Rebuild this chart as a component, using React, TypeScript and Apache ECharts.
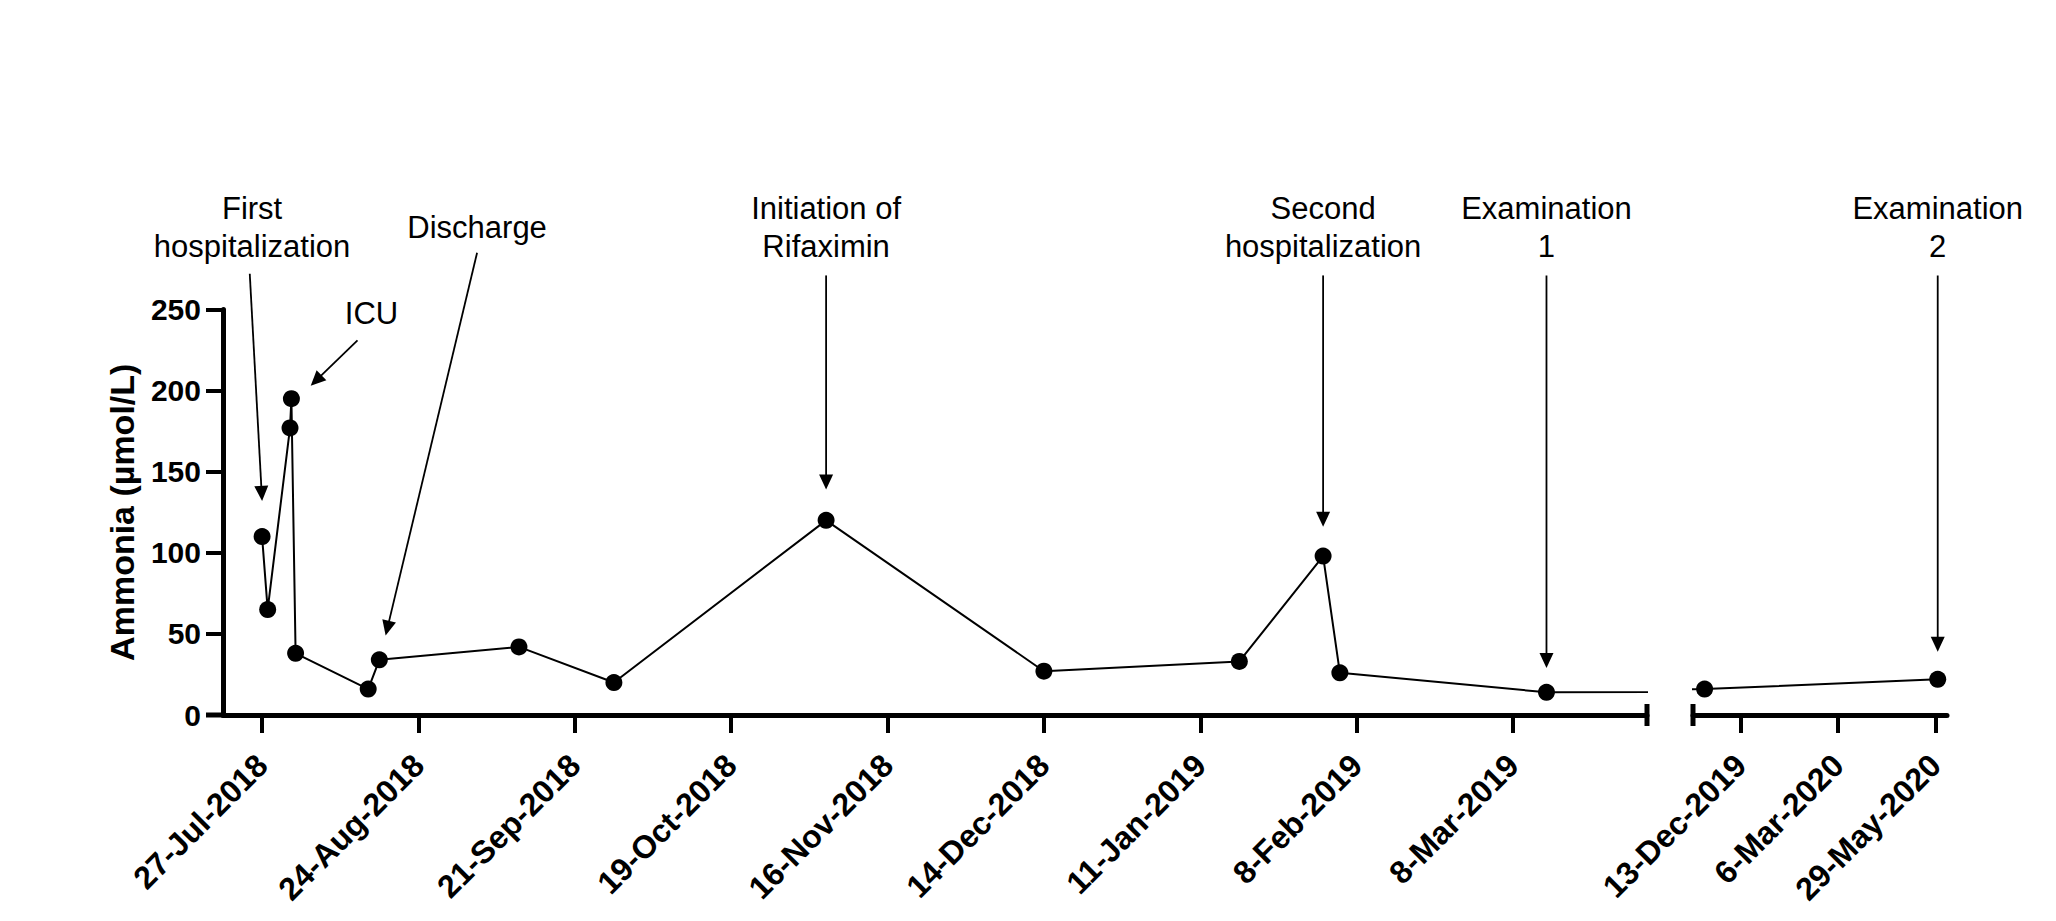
import React, { useEffect, useRef } from 'react';
import * as echarts from 'echarts';

// ---- data ----
const sampleDates = [
  '2018-07-27', '2018-07-28', '2018-08-01', '2018-08-01T06:00', '2018-08-02',
  '2018-08-15', '2018-08-17', '2018-09-11', '2018-09-28', '2018-11-05',
  '2018-12-14', '2019-01-18', '2019-02-02', '2019-02-05', '2019-03-14',
  '2019-11-12', '2020-05-31',
];
const ammonia = [110, 65, 177, 195, 38, 16, 34, 42, 20, 120, 27, 33, 98, 26, 14, 16, 22];

const leftRange = ['2018-07-20', '2019-04-01'];
const rightRange = ['2019-11-02', '2020-06-08'];

const leftTickDates = ['2018-07-27', '2018-08-24', '2018-09-21', '2018-10-19', '2018-11-16', '2018-12-14', '2019-01-11', '2019-02-08', '2019-03-08'];
const leftTickLabels = ['27-Jul-2018', '24-Aug-2018', '21-Sep-2018', '19-Oct-2018', '16-Nov-2018', '14-Dec-2018', '11-Jan-2019', '8-Feb-2019', '8-Mar-2019'];
const rightTickDates = ['2019-12-13', '2020-03-06', '2020-05-29'];
const rightTickLabels = ['13-Dec-2019', '6-Mar-2020', '29-May-2020'];

const yMin = 0;
const yMax = 250;
const yInterval = 50;
const yName = 'Ammonia (µmol/L)';

// annotations (arrow tip / tail / label anchor in data units)
const annLabels = ['First\nhospitalization', 'ICU', 'Discharge', 'Initiation of\nRifaximin', 'Second\nhospitalization', 'Examination\n1', 'Examination\n2'];
const annSegment = [0, 0, 0, 0, 0, 0, 1];
const annTipDates = ['2018-07-27', '2018-08-04T17:00', '2018-08-18T03:00', '2018-11-05', '2019-02-02', '2019-03-14', '2020-05-31'];
const annTipValues = [132, 203, 49, 139, 116, 29, 39];
const annTailDates = ['2018-07-24T19:00', '2018-08-13T02:00', '2018-09-03T12:00', '2018-11-05', '2019-02-02', '2019-03-14', '2020-05-31'];
const annTailValues = [272, 231, 285, 271, 271, 271, 271];
const annTextDates = ['2018-07-25T05:00', '2018-08-15T14:00', '2018-09-03T12:00', '2018-11-05', '2019-02-02', '2019-03-14', '2020-05-31'];
const annTextValues = [277, 236, 289, 277, 277, 277, 277];

// ---- helpers ----
const t = (s: string) => Date.parse(s.length > 10 ? s + ':00Z' : s + 'T00:00:00Z');
const FONT = "'Liberation Sans', Arial, Helvetica, sans-serif";

const labelFor = (dates: string[], labels: string[]) => (v: number) => {
  const i = dates.findIndex((d) => Math.abs(t(d) - v) < 3600000);
  return i >= 0 ? labels[i] : '';
};

const annRender = (params: any, api: any) => {
  const i = api.value(2);
  const tip = api.coord([t(annTipDates[i]), annTipValues[i]]);
  const tail = api.coord([t(annTailDates[i]), annTailValues[i]]);
  const txt = api.coord([t(annTextDates[i]), annTextValues[i]]);
  const dx = tip[0] - tail[0];
  const dy = tip[1] - tail[1];
  const len = Math.hypot(dx, dy) || 1;
  const ux = dx / len;
  const uy = dy / len;
  const headLen = 15;
  const headHalf = 7;
  const bx = tip[0] - ux * headLen;
  const by = tip[1] - uy * headLen;
  return {
    type: 'group',
    children: [
      { type: 'line', shape: { x1: tail[0], y1: tail[1], x2: bx + ux * 2, y2: by + uy * 2 }, style: { stroke: '#000', lineWidth: 1.8 } },
      {
        type: 'polygon',
        shape: { points: [tip, [bx - uy * headHalf, by + ux * headHalf], [bx + uy * headHalf, by - ux * headHalf]] },
        style: { fill: '#000' },
      },
      {
        type: 'text',
        x: txt[0],
        y: txt[1],
        style: { text: annLabels[i], fill: '#000', fontSize: 31, fontFamily: FONT, align: 'center', verticalAlign: 'bottom', lineHeight: 38 },
      },
    ],
  };
};

const decorLeft = (params: any, api: any) => {
  const a = api.coord([t(leftRange[0]), 0]);
  const b = api.coord([t(leftRange[1]), 0]);
  return {
    type: 'group',
    children: [
      { type: 'line', shape: { x1: a[0] - 17, y1: a[1], x2: a[0] + 2, y2: a[1] }, style: { stroke: '#000', lineWidth: 5 } },
      { type: 'line', shape: { x1: b[0], y1: b[1] - 11, x2: b[0], y2: b[1] + 11 }, style: { stroke: '#000', lineWidth: 5 } },
    ],
  };
};

const decorRight = (params: any, api: any) => {
  const a = api.coord([t(rightRange[0]), 0]);
  return {
    type: 'group',
    children: [
      { type: 'line', shape: { x1: a[0], y1: a[1] - 11, x2: a[0], y2: a[1] + 11 }, style: { stroke: '#000', lineWidth: 5 } },
    ],
  };
};

export default function App() {
  const ref = useRef<HTMLDivElement>(null);

  useEffect(() => {
    if (!ref.current) return;
    const chart = echarts.init(ref.current, undefined, { renderer: 'svg' });
    const points = sampleDates.map((d, i) => [t(d), ammonia[i]]);

    const xAxisCommon = (dates: string[], labels: string[], range: string[], gridIndex: number) => ({
      type: 'value',
      gridIndex,
      min: t(range[0]),
      max: t(range[1]),
      splitLine: { show: false },
      axisLine: { show: true, onZero: false, lineStyle: { color: '#000', width: 5 } },
      axisTick: { show: true, customValues: dates.map(t), length: 18, lineStyle: { color: '#000', width: 4 } },
      axisLabel: {
        show: true,
        customValues: dates.map(t),
        formatter: labelFor(dates, labels),
        rotate: 45,
        margin: 45,
        color: '#000',
        fontSize: 32,
        fontWeight: 'bold',
        fontFamily: FONT,
      },
    });

    const lineSeries = (idx: number) => ({
      type: 'line',
      xAxisIndex: idx,
      yAxisIndex: idx,
      data: points,
      symbol: 'circle',
      symbolSize: 17,
      clip: true,
      itemStyle: { color: '#000' },
      lineStyle: { color: '#000', width: 2 },
      z: 3,
      silent: true,
    });

    const annData = (seg: number) =>
      annLabels.map((_, i) => i).filter((i) => annSegment[i] === seg).map((i) => [t(annTipDates[i]), annTipValues[i], i]);

    chart.setOption({
      animation: false,
      backgroundColor: '#fff',
      grid: [
        { left: 223, right: 409, top: 309.5, bottom: 206 },
        { left: 1693, right: 109, top: 309.5, bottom: 206 },
      ],
      xAxis: [
        xAxisCommon(leftTickDates, leftTickLabels, leftRange, 0),
        xAxisCommon(rightTickDates, rightTickLabels, rightRange, 1),
      ],
      yAxis: [
        {
          type: 'value',
          gridIndex: 0,
          min: yMin,
          max: yMax,
          interval: yInterval,
          name: yName,
          nameLocation: 'middle',
          nameGap: 84,
          nameTextStyle: { color: '#000', fontSize: 34, fontWeight: 'bold', fontFamily: FONT },
          splitLine: { show: false },
          axisLine: { show: true, lineStyle: { color: '#000', width: 5 } },
          axisTick: { show: true, length: 17, lineStyle: { color: '#000', width: 4 } },
          axisLabel: { color: '#000', fontSize: 30, fontWeight: 'bold', fontFamily: FONT, margin: 22 },
        },
        {
          type: 'value',
          gridIndex: 1,
          min: yMin,
          max: yMax,
          interval: yInterval,
          show: false,
          splitLine: { show: false },
        },
      ],
      series: [
        lineSeries(0),
        lineSeries(1),
        { type: 'custom', xAxisIndex: 0, yAxisIndex: 0, data: annData(0), renderItem: annRender, clip: false, silent: true, z: 4 },
        { type: 'custom', xAxisIndex: 1, yAxisIndex: 1, data: annData(1), renderItem: annRender, clip: false, silent: true, z: 4 },
        { type: 'custom', xAxisIndex: 0, yAxisIndex: 0, data: [[t(leftRange[0]), 0]], renderItem: decorLeft, clip: false, silent: true, z: 5 },
        { type: 'custom', xAxisIndex: 1, yAxisIndex: 1, data: [[t(rightRange[0]), 0]], renderItem: decorRight, clip: false, silent: true, z: 5 },
      ],
    });

    return () => chart.dispose();
  }, []);

  return <div ref={ref} style={{ position: 'fixed', left: 0, top: 0, width: 2056, height: 921, background: '#fff' }} />;
}
